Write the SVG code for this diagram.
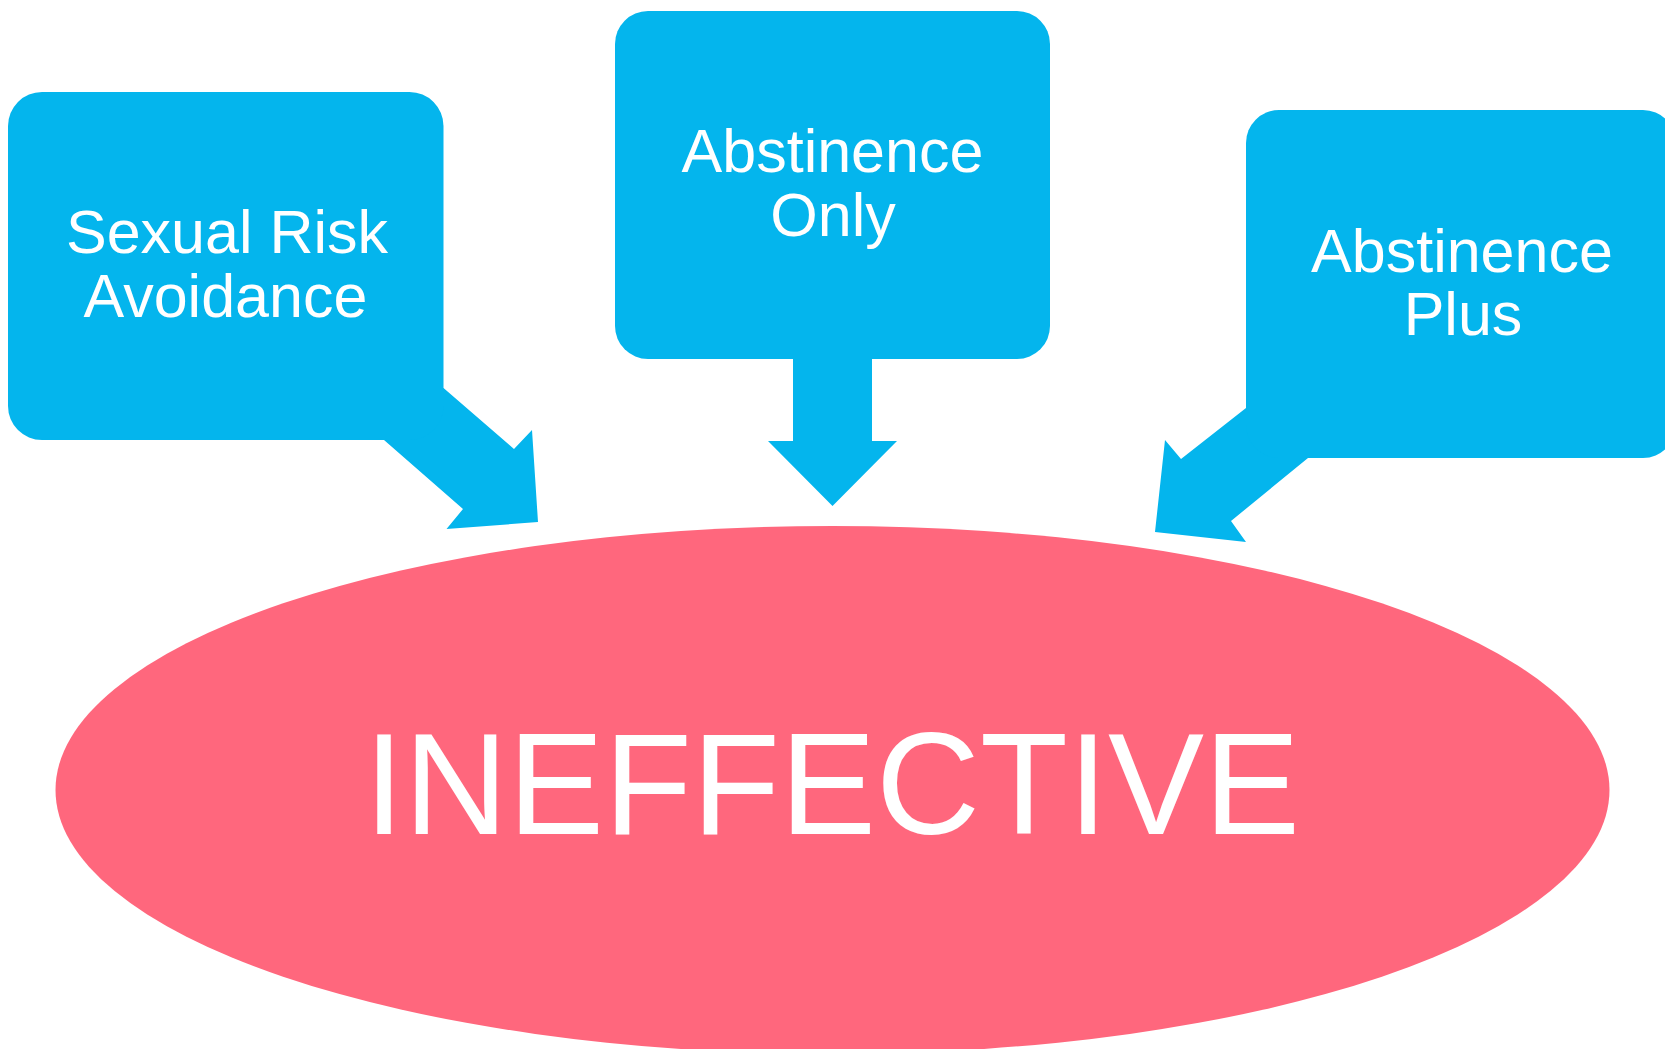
<svg xmlns="http://www.w3.org/2000/svg" width="1665" height="1049" viewBox="0 0 1665 1049">
<style>
.box{fill:#04B5ED}
.arrow{fill:#04B5ED}
.lbl{font-family:"Liberation Sans",Arial,sans-serif;fill:#FFFFFF;text-anchor:middle}
.small{font-size:61px}
.big{font-size:144px}
</style>
<rect width="1665" height="1049" fill="#FFFFFF"/>
<g id="ineffective">
<ellipse cx="832.5" cy="790" rx="777" ry="264" fill="#FF677D"/>
<text class="lbl big" x="832" y="834">INEFFECTIVE</text>
</g>
<g id="connectors">
<polygon class="arrow" points="443.5,388 514,449 532,430 538,522 446.5,529 463,509 384,440 384,388"/>
<polygon class="arrow" points="793,340 872,340 872,441 897,441 832.5,506 768,441 793,441"/>
<polygon class="arrow" points="1246,408 1181,459 1165,440 1155,532 1246,542 1231,521 1308,458 1308,408"/>
</g>
<g id="sexual-risk-avoidance">
<rect class="box" x="8" y="92" width="435.5" height="348" rx="34" ry="34"/>
<text class="lbl small" x="227" y="253">Sexual Risk</text>
<text class="lbl small" x="225.5" y="317">Avoidance</text>
</g>
<g id="abstinence-only">
<rect class="box" x="615" y="11" width="435" height="348" rx="33" ry="33"/>
<text class="lbl small" x="832.5" y="172">Abstinence</text>
<text class="lbl small" x="833" y="236">Only</text>
</g>
<g id="abstinence-plus">
<rect class="box" x="1246" y="110" width="430" height="348" rx="33" ry="33"/>
<text class="lbl small" x="1462" y="272">Abstinence</text>
<text class="lbl small" x="1463" y="335">Plus</text>
</g>
</svg>
